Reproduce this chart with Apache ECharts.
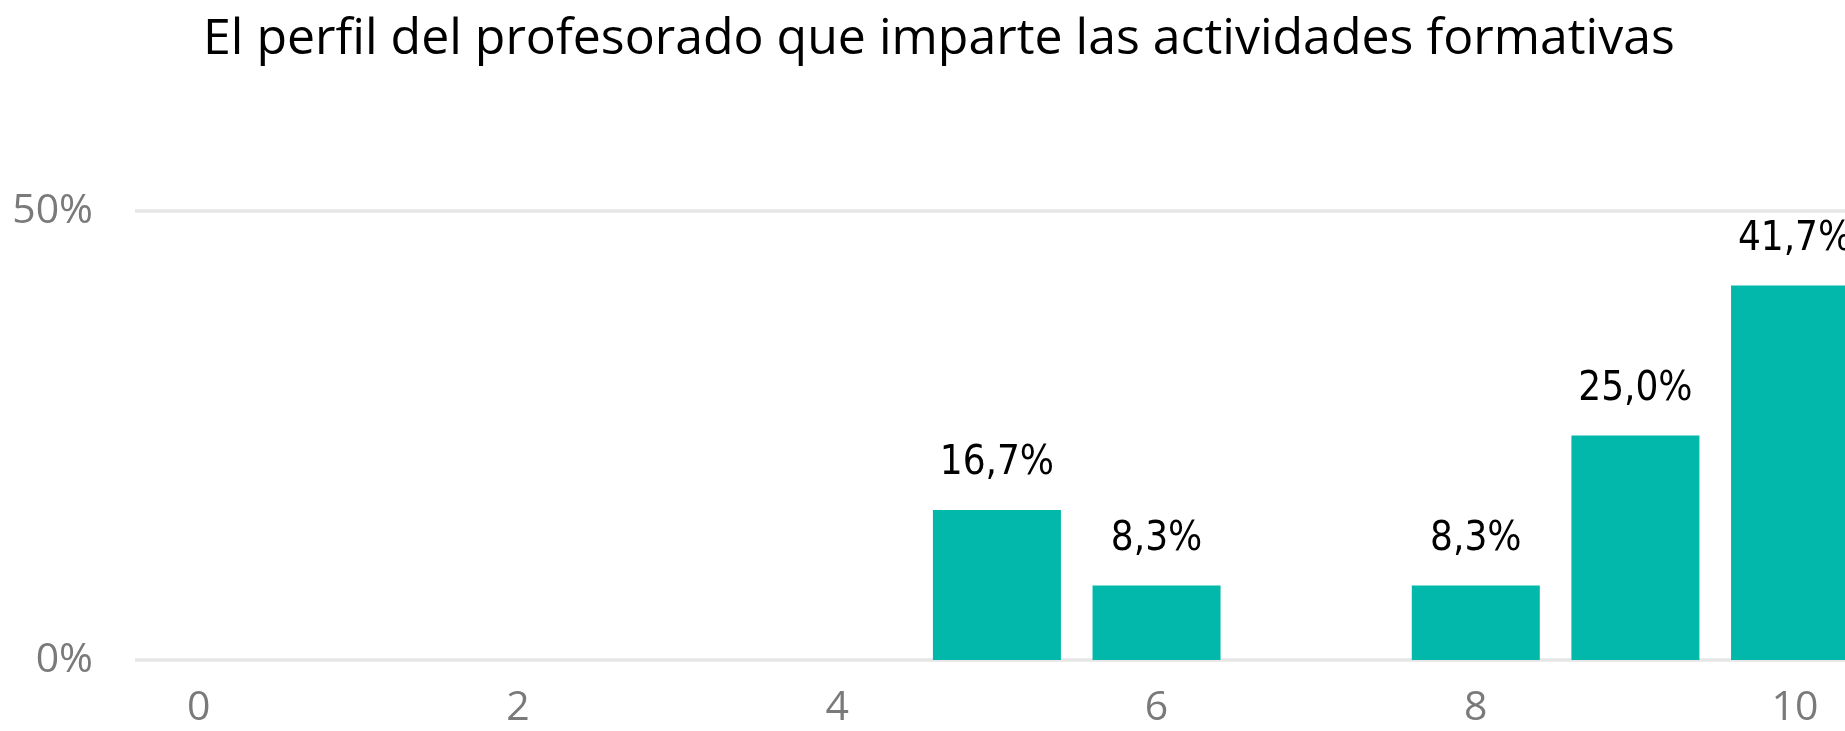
<!DOCTYPE html>
<html>
<head>
<meta charset="utf-8">
<script src="https://cdn.jsdelivr.net/npm/echarts@6/dist/echarts.min.js"></script>
<style>
  html, body { margin: 0; padding: 0; background: #fff; }
  #chart { width: 1845px; height: 731px; }
</style>
</head>
<body>
<div id="chart"></div>
<script>
const titleText = 'El perfil del profesorado que imparte las actividades formativas';
const scores = [0, 1, 2, 3, 4, 5, 6, 7, 8, 9, 10];
const shares = [0, 0, 0, 0, 0, 16.7, 8.3, 0, 8.3, 25.0, 41.7];
const xLabels = [0, 2, 4, 6, 8, 10];
const yTicks = [0, 50];

const fmtPct = v => v.toFixed(1).replace('.', ',') + '%';
const barData = scores.map((s, i) => [s, shares[i]]);

const chart = echarts.init(document.getElementById('chart'));
chart.setOption({
  animation: false,
  title: {
    text: titleText,
    left: 198,
    top: 10,
    textStyle: { fontFamily: 'Open Sans', fontWeight: 'normal', fontSize: 50, color: '#000' }
  },
  // grid 0 carries the y labels and gridlines, grid 1 carries the bars
  grid: [
    { left: 135, right: 0, top: 211, bottom: 71 },
    { left: 119, right: 0, top: 211, bottom: 71 }
  ],
  xAxis: [
    { gridIndex: 0, type: 'value', show: false },
    {
      gridIndex: 1,
      type: 'value',
      min: -0.5,
      max: 10.313,
      axisLine: { show: false },
      axisTick: { show: false },
      splitLine: { show: false },
      axisLabel: {
        customValues: xLabels,
        margin: 28,
        color: '#7a7a7a',
        fontFamily: 'Open Sans',
        fontSize: 41
      }
    }
  ],
  yAxis: [
    {
      gridIndex: 0,
      type: 'value',
      min: yTicks[0],
      max: yTicks[1],
      interval: yTicks[1] - yTicks[0],
      axisLine: { show: false },
      axisTick: { show: false },
      axisLabel: {
        margin: 42,
        color: '#7a7a7a',
        fontFamily: 'Open Sans',
        fontSize: 41,
        formatter: v => v + '%'
      },
      splitLine: { lineStyle: { color: '#e6e6e6', width: 3.5 } }
    },
    {
      gridIndex: 1,
      type: 'value',
      min: yTicks[0],
      max: yTicks[1],
      show: false
    }
  ],
  series: [
    {
      type: 'bar',
      xAxisIndex: 1,
      yAxisIndex: 1,
      data: barData,
      barWidth: 128,
      clip: true,
      itemStyle: { color: '#01B8AA' },
      label: {
        show: true,
        position: 'top',
        distance: 26,
        color: '#000',
        fontFamily: '"DejaVu Sans Condensed", "DejaVu Sans", sans-serif',
        fontSize: 40,
        formatter: p => (p.value[1] > 0 ? fmtPct(p.value[1]) : '')
      }
    }
  ]
});
</script>
</body>
</html>
